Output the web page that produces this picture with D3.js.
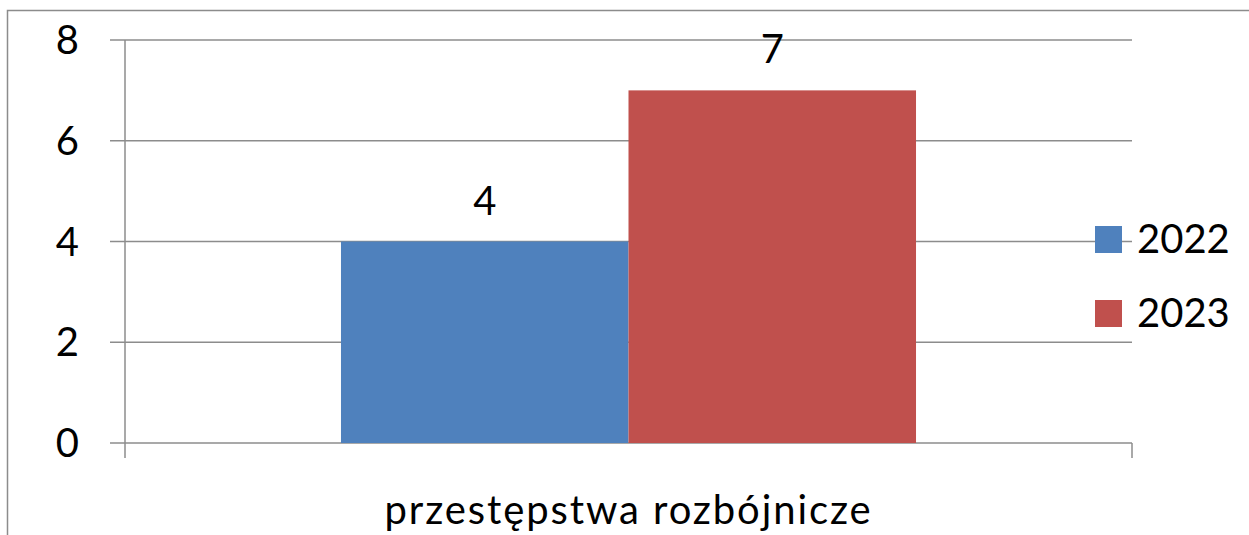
<!DOCTYPE html>
<meta charset="utf-8">
<style>
  body { margin: 0; background: #fff; }
  .chart text { font-family: Lato, "Open Sans", sans-serif; fill: #000; }
</style>
<body>
<svg class="chart"></svg>
<script src="https://d3js.org/d3.v7.min.js"></script>
<script>
  // data
  var categories = ["przestępstwa rozbójnicze"];
  var seriesNames = ["2022", "2023"];
  var values2022 = [4];
  var values2023 = [7];
  var yTicks = [0, 2, 4, 6, 8];
  var colors = ["#4f81bd", "#c0504d"];

  var w = 1249, h = 535;
  var plot = { left: 125, right: 1132, top: 40, bottom: 443 };
  var fontSize = 40;

  var svg = d3.select(".chart").attr("width", w).attr("height", h);

  // outer frame (clipped on right and bottom)
  svg.append("rect")
    .attr("x", 7.5).attr("y", 10.5)
    .attr("width", 1400).attr("height", 700)
    .attr("fill", "none")
    .attr("stroke", "#8c8c8c")
    .attr("stroke-width", 1.5);

  var y = d3.scaleLinear().domain([0, 8]).range([plot.bottom, plot.top]);
  var x0 = d3.scaleBand().domain(categories).range([plot.left, plot.right]).paddingInner(0).paddingOuter(0.3756);
  var x1 = d3.scaleBand().domain(seriesNames).range([0, x0.bandwidth()]);

  // gridlines + left ticks
  svg.append("g").selectAll("line")
    .data(yTicks)
    .enter().append("line")
    .attr("x1", plot.left - 15).attr("x2", plot.right)
    .attr("y1", function (d) { return y(d); })
    .attr("y2", function (d) { return y(d); })
    .attr("stroke", "#8c8c8c")
    .attr("stroke-width", 1.5);

  // y axis line
  svg.append("line")
    .attr("x1", plot.left).attr("x2", plot.left)
    .attr("y1", plot.top).attr("y2", plot.bottom + 15)
    .attr("stroke", "#8c8c8c").attr("stroke-width", 1.5);

  // right category tick
  svg.append("line")
    .attr("x1", plot.right).attr("x2", plot.right)
    .attr("y1", plot.bottom).attr("y2", plot.bottom + 15)
    .attr("stroke", "#8c8c8c").attr("stroke-width", 1.5);

  // y labels
  svg.append("g").selectAll("text")
    .data(yTicks)
    .enter().append("text")
    .attr("x", 79)
    .attr("y", function (d) { return y(d); })
    .attr("dy", "0.35em")
    .attr("text-anchor", "end")
    .style("font-size", fontSize + "px")
    .text(function (d) { return d; });

  // bars
  var rows = categories.map(function (c, i) {
    return { cat: c, vals: [values2022[i], values2023[i]] };
  });

  var groups = svg.append("g").selectAll("g")
    .data(rows)
    .enter().append("g")
    .attr("transform", function (d) { return "translate(" + x0(d.cat) + ",0)"; });

  groups.selectAll("rect")
    .data(function (d) { return d.vals.map(function (v, j) { return { name: seriesNames[j], v: v, j: j }; }); })
    .enter().append("rect")
    .attr("x", function (d) { return x1(d.name); })
    .attr("width", x1.bandwidth())
    .attr("y", function (d) { return y(d.v); })
    .attr("height", function (d) { return y(0) - y(d.v); })
    .attr("fill", function (d) { return colors[d.j]; });

  groups.selectAll("text")
    .data(function (d) { return d.vals.map(function (v, j) { return { name: seriesNames[j], v: v }; }); })
    .enter().append("text")
    .attr("x", function (d) { return x1(d.name) + x1.bandwidth() / 2; })
    .attr("y", function (d) { return y(d.v) - 27; })
    .attr("text-anchor", "middle")
    .style("font-size", fontSize + "px")
    .text(function (d) { return d.v; });

  // category label
  svg.append("g").selectAll("text")
    .data(categories)
    .enter().append("text")
    .attr("x", function (d) { return x0(d) + x0.bandwidth() / 2; })
    .attr("y", 524)
    .attr("text-anchor", "middle")
    .style("font-size", fontSize + "px")
    .style("letter-spacing", "1.9px")
    .text(function (d) { return d; });

  // legend
  var legend = svg.append("g").selectAll("g")
    .data(seriesNames)
    .enter().append("g")
    .attr("transform", function (d, i) { return "translate(1095," + (226 + i * 74) + ")"; });

  legend.append("rect")
    .attr("width", 27).attr("height", 27)
    .attr("fill", function (d, i) { return colors[i]; });

  legend.append("text")
    .attr("x", 42).attr("y", 27)
    .style("font-size", fontSize + "px")
    .text(function (d) { return d; });
</script>
</body>
